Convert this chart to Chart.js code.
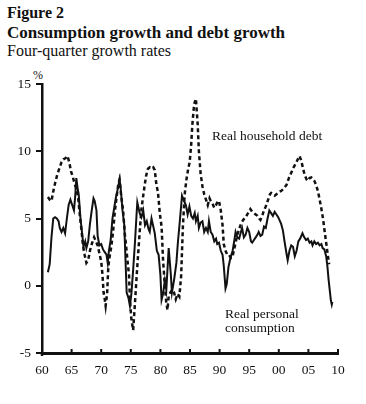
<!DOCTYPE html>
<html>
<head>
<meta charset="utf-8">
<script src="https://cdn.jsdelivr.net/npm/chart.js@4.4.1/dist/chart.umd.min.js"></script>
<style>
  html, body { margin: 0; padding: 0; background: #fff; }
  body { width: 366px; height: 404px; position: relative; overflow: hidden; font-family: "Liberation Serif", serif; color: #111; }
  .t { position: absolute; left: 7px; white-space: nowrap; line-height: 1; }
  #c { position: absolute; left: 0; top: 0; }
</style>
</head>
<body>
<div class="t" style="top:5px;font-size:16px;font-weight:bold;">Figure 2</div>
<div class="t" style="top:24px;font-size:17px;font-weight:bold;">Consumption growth and debt growth</div>
<div class="t" style="top:43px;font-size:16px;">Four-quarter growth rates</div>
<div class="t" style="top:69px;left:33px;font-size:12px;">%</div>
<canvas id="c" width="366" height="404"></canvas>
<script>
// ---- data ----
const consYears = [1961.0,1961.3,1961.6,1961.9,1962.2,1962.5,1962.8,1963.0,1963.3,1963.6,1963.9,1964.2,1964.5,1964.8,1965.1,1965.4,1965.6,1965.8,1966.0,1966.2,1966.5,1966.8,1967.0,1967.3,1967.5,1967.8,1968.1,1968.4,1968.7,1968.9,1969.2,1969.4,1969.7,1970.0,1970.3,1970.6,1970.9,1971.1,1971.3,1971.6,1971.9,1972.2,1972.5,1972.8,1973.1,1973.3,1973.6,1973.9,1974.1,1974.3,1974.6,1974.85,1975.1,1975.4,1975.7,1976.0,1976.1,1976.5,1976.8,1977.1,1977.4,1977.7,1978.0,1978.2,1978.5,1978.8,1979.05,1979.4,1979.7,1980.0,1980.2,1980.45,1980.75,1981.0,1981.4,1981.75,1981.95,1982.3,1982.7,1982.95,1983.3,1983.65,1984.0,1984.3,1984.6,1984.9,1985.2,1985.5,1985.8,1986.0,1986.3,1986.5,1986.8,1987.1,1987.4,1987.7,1988.0,1988.2,1988.5,1988.8,1989.1,1989.4,1989.6,1989.9,1990.2,1990.5,1990.7,1991.0,1991.2,1991.5,1991.8,1992.2,1992.5,1992.7,1993.0,1993.3,1993.6,1993.8,1994.1,1994.4,1994.7,1995.0,1995.3,1995.5,1995.8,1996.1,1996.4,1996.6,1996.9,1997.2,1997.5,1997.8,1998.1,1998.4,1998.7,1999.0,1999.3,1999.6,1999.9,2000.1,2000.4,2000.7,2001.0,2001.3,2001.5,2001.8,2002.1,2002.4,2002.7,2003.0,2003.3,2003.6,2004.0,2004.3,2004.6,2004.9,2005.2,2005.5,2005.7,2006.0,2006.3,2006.6,2006.9,2007.2,2007.4,2007.7,2008.0,2008.2,2008.4,2008.6,2008.8,2008.95,2009.05];
const consValues = [1.0,1.6,3.6,5.0,5.1,5.0,4.8,4.3,4.0,4.3,3.9,5.0,6.0,6.4,6.0,5.6,6.6,8.0,7.3,6.8,5.0,3.8,2.9,3.3,2.8,3.3,4.6,5.6,6.5,6.3,5.6,3.7,3.0,3.1,2.7,2.5,2.3,1.7,2.6,3.4,5.0,5.8,6.6,7.2,7.9,7.2,5.6,4.5,2.0,-0.5,-0.9,-1.5,-0.6,1.2,3.2,5.5,6.2,5.4,5.1,5.6,4.5,4.8,4.2,4.0,5.0,4.4,3.9,2.6,2.3,0.8,-1.05,-0.6,0.4,-0.3,2.8,0.9,-0.5,0.4,1.7,3.2,4.9,6.7,6.3,6.0,5.3,5.9,5.2,5.0,5.4,4.8,5.2,4.3,4.7,4.8,4.0,4.3,4.0,4.8,4.0,3.8,3.3,3.5,3.1,3.2,2.6,2.3,1.5,-0.2,0.1,1.4,2.0,2.6,3.4,4.0,3.6,3.5,4.0,4.3,3.6,3.8,4.3,4.0,3.3,3.2,3.4,3.6,3.8,4.0,3.7,3.8,4.4,4.3,5.0,5.6,5.4,5.2,5.5,5.3,5.1,4.9,4.6,4.1,3.2,2.4,1.9,2.6,3.0,2.9,2.2,2.6,3.3,3.5,3.9,3.6,3.4,3.5,3.2,3.3,3.0,3.3,3.1,3.2,3.0,3.1,2.8,2.7,2.2,1.5,0.5,-0.3,-1.1,-1.4,-1.2];

const debtYears = [1961.0,1961.3,1961.6,1961.9,1962.2,1962.6,1963.0,1963.3,1963.6,1964.0,1964.3,1964.6,1964.9,1965.2,1965.5,1965.8,1966.1,1966.4,1966.7,1966.9,1967.2,1967.5,1967.8,1968.1,1968.4,1968.8,1969.1,1969.4,1969.7,1970.0,1970.2,1970.4,1970.6,1970.75,1971.0,1971.2,1971.5,1971.7,1972.0,1972.3,1972.6,1972.9,1973.1,1973.4,1973.7,1974.0,1974.2,1974.5,1974.7,1974.85,1975.1,1975.4,1975.7,1976.0,1976.25,1976.5,1976.8,1977.1,1977.35,1977.6,1977.9,1978.2,1978.5,1978.8,1979.05,1979.3,1979.6,1979.9,1980.2,1980.45,1980.75,1981.0,1981.2,1981.4,1981.7,1982.0,1982.3,1982.6,1982.9,1983.2,1983.5,1983.8,1984.1,1984.4,1984.7,1984.95,1985.2,1985.4,1985.7,1986.0,1986.3,1986.5,1986.8,1987.1,1987.4,1987.7,1988.0,1988.3,1988.5,1988.8,1989.1,1989.4,1989.7,1989.9,1990.2,1990.5,1990.7,1991.0,1991.3,1991.6,1991.9,1992.2,1992.4,1992.7,1993.0,1993.3,1993.6,1994.0,1994.4,1994.8,1995.2,1995.5,1995.8,1996.1,1996.4,1996.7,1996.9,1997.2,1997.5,1997.8,1998.2,1998.5,1998.7,1999.0,1999.3,1999.6,1999.85,2000.1,2000.4,2000.8,2001.3,2001.7,2002.1,2002.5,2002.95,2003.3,2003.5,2003.8,2004.1,2004.4,2004.7,2004.9,2005.2,2005.5,2005.8,2006.0,2006.3,2006.6,2006.9,2007.2,2007.5,2007.7,2008.0,2008.3,2008.5];
const debtValues = [6.6,6.4,6.3,7.0,7.6,8.3,8.8,9.2,9.4,9.5,9.65,9.2,8.5,8.1,7.6,7.2,6.6,5.2,4.0,3.1,2.3,1.7,1.9,2.6,3.1,3.6,3.3,3.0,2.4,1.8,0.9,-0.5,-1.0,-1.5,-0.6,1.4,2.4,2.9,4.0,5.5,6.6,7.6,7.9,6.6,5.6,3.8,3.0,1.6,0.8,-1.0,-2.5,-3.3,-1.3,0.8,2.4,4.0,5.7,6.7,7.5,8.2,8.7,8.8,8.7,8.8,8.6,7.6,6.9,5.4,4.4,1.9,0.0,-1.3,-1.8,-0.8,-0.5,-0.3,-0.5,-1.0,-0.6,-0.8,0.7,4.4,6.8,7.9,8.7,9.2,10.5,12.0,13.5,13.9,12.0,10.0,8.3,7.4,6.8,6.4,6.0,6.5,6.3,6.1,5.8,6.0,6.3,6.3,5.6,4.5,3.1,2.6,2.3,2.3,2.05,2.2,2.6,3.2,3.8,4.2,4.6,4.9,5.1,5.4,5.7,5.5,5.4,5.3,5.2,5.0,4.9,5.2,5.6,5.9,6.4,6.8,6.9,6.8,6.7,6.8,6.9,7.0,7.05,7.2,7.5,8.0,8.4,8.8,9.15,9.5,9.65,9.3,8.7,8.2,7.9,7.8,8.0,8.05,7.9,7.8,7.5,7.05,6.4,5.7,4.9,4.2,3.2,2.2,1.6];

const xTickValues = [1960,1965,1970,1975,1980,1985,1990,1995,2000,2005,2010];
const xTickLabels = ['60','65','70','75','80','85','90','95','00','05','10'];
const yTickLabels = ['-5','0','5','10','15'];

const annotations = [
  { text: 'Real household debt', x: 1988.7, y: 11.1 },
  { text: 'Real personal', x: 1990.9, y: -2.1 },
  { text: 'consumption', x: 1990.9, y: -3.2 }
];

const toPoints = (xs, ys) => xs.map((x, i) => ({ x: x, y: ys[i] }));

const FONT = '"Liberation Serif"';

const extras = {
  id: 'extras',
  afterDraw(chart) {
    const { ctx, scales: { x, y } } = chart;
    ctx.save();
    ctx.strokeStyle = '#111';
    ctx.lineWidth = 2;
    xTickValues.forEach(v => {
      const px = x.getPixelForValue(v);
      ctx.beginPath();
      ctx.moveTo(px, y.bottom);
      ctx.lineTo(px, y.bottom - 4);
      ctx.stroke();
    });
    ctx.lineWidth = 2.5;
    ctx.beginPath();
    ctx.moveTo(x.left, y.bottom);
    ctx.lineTo(x.left, y.bottom + 3);
    ctx.stroke();
    ctx.fillStyle = '#111';
    ctx.font = '13.5px ' + FONT;
    ctx.textBaseline = 'middle';
    ctx.textAlign = 'left';
    annotations.forEach(a => {
      ctx.fillText(a.text, x.getPixelForValue(a.x), y.getPixelForValue(a.y));
    });
    ctx.restore();
  }
};

function draw() {
  new Chart(document.getElementById('c'), {
    type: 'line',
    data: {
      datasets: [
        {
          label: 'Real personal consumption',
          data: toPoints(consYears, consValues),
          borderColor: '#111',
          borderWidth: 2,
          pointRadius: 0,
          tension: 0,
          fill: false
        },
        {
          label: 'Real household debt',
          data: toPoints(debtYears, debtValues),
          borderColor: '#111',
          borderWidth: 2.5,
          borderDash: [4, 3],
          pointRadius: 0,
          tension: 0,
          fill: false
        }
      ]
    },
    options: {
      responsive: false,
      animation: false,
      maintainAspectRatio: false,
      layout: { padding: { top: 84, right: 28, left: 0, bottom: 0 } },
      plugins: { legend: { display: false }, tooltip: { enabled: false }, title: { display: false } },
      scales: {
        x: {
          type: 'linear',
          min: 1960, max: 2010,
          afterFit: s => { s.height = 51; },
          afterBuildTicks: s => { s.ticks = xTickValues.map(v => ({ value: v })); },
          ticks: {
            callback: (v) => xTickLabels[xTickValues.indexOf(v)],
            font: { family: FONT, size: 13.5 },
            color: '#111',
            padding: 9,
            maxRotation: 0,
            autoSkip: false
          },
          grid: { display: true, drawOnChartArea: false, drawTicks: false, color: '#111' },
          border: { display: true, color: '#111', width: 3 }
        },
        y: {
          min: -5, max: 15,
          afterFit: s => { s.width = 42; },
          afterBuildTicks: s => { s.ticks = yTickLabels.map(t => ({ value: Number(t) })); },
          ticks: {
            callback: (v) => yTickLabels[yTickLabels.indexOf(String(v))],
            font: { family: FONT, size: 13.5 },
            color: '#111',
            padding: 5
          },
          grid: { display: true, drawOnChartArea: false, drawTicks: true, tickLength: 6, lineWidth: 2, color: '#111' },
          border: { display: true, color: '#111', width: 2.5 }
        }
      }
    },
    plugins: [extras]
  });
}

if (document.fonts && document.fonts.load) {
  Promise.all([
    document.fonts.load('13.5px "Liberation Serif"'),
    document.fonts.load('bold 16px "Liberation Serif"')
  ]).then(draw, draw);
} else {
  draw();
}
</script>
</body>
</html>
